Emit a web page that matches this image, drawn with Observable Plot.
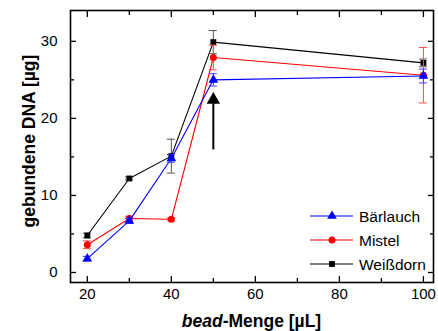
<!DOCTYPE html>
<html><head><meta charset="utf-8">
<script src="https://cdn.jsdelivr.net/npm/d3@7"></script>
<script src="https://cdn.jsdelivr.net/npm/@observablehq/plot@0.6"></script>
<style>
body{margin:0;background:#fff;}
#chart{position:relative;width:438px;height:331px;}
</style>
</head><body><div id="chart"></div>
<script>
// ---- data ----
const beadVolumes = [20, 30, 40, 50, 100];
const seriesNames = ["Bärlauch", "Mistel", "Weißdorn"];
const baerlauch    = [1.8, 6.7, 14.8, 25.0, 25.5];
const baerlauchErr = [0.3, 0.3, 0.5, 0.8, 0.9];
const mistel       = [3.6, 7.0, 6.9, 27.9, 25.6];
const mistelErr    = [0.5, 0.3, 0.2, 1.6, 3.6];
const weissdorn    = [4.8, 12.2, 15.1, 29.9, 27.2];
const weissdornErr = [0.3, 0.2, 2.2, 1.5, 0.5];
const xMajorTicks = [20, 40, 60, 80, 100];
const xMinorTicks = [30, 50, 70, 90];
const yMajorTicks = [0, 10, 20, 30];
const yMinorTicks = [5, 15, 25];
const arrowAnnotation = [{x: 50, y1: 15.9, y2: 22.4}];
const yLabel = "gebundene DNA [µg]";

const seriesValues = [baerlauch, mistel, weissdorn];
const seriesErrors = [baerlauchErr, mistelErr, weissdornErr];
const lineColors = ["#0000ff", "#ff0000", "#000000"];
const errColors = ["#3a3aff", "#ff4a4a", "#555555"];
const symbols = ["triangle", "circle", "square"];
const symbolR = [3.6, 3.5, 3.3];

const font = "'Liberation Sans', Arial, sans-serif";
const W = 438, H = 331, mL = 70, mT = 10, mR = 5, mB = 49;

const marks = [];
// mirrored inward ticks
marks.push(Plot.axisX(xMajorTicks, {anchor: "bottom", tickSize: -6, tickPadding: 12, fontSize: 15, label: null, stroke: "#000", strokeWidth: 1.3}));
marks.push(Plot.axisX(xMinorTicks, {anchor: "bottom", tickSize: -4, tickFormat: () => "", label: null, strokeWidth: 1.3}));
marks.push(Plot.axisX(xMajorTicks, {anchor: "top", tickSize: -6, tickFormat: () => "", label: null, strokeWidth: 1.3}));
marks.push(Plot.axisX(xMinorTicks, {anchor: "top", tickSize: -4, tickFormat: () => "", label: null, strokeWidth: 1.3}));
marks.push(Plot.axisY(yMajorTicks, {anchor: "left", tickSize: -6, tickPadding: 19, fontSize: 15, label: null, strokeWidth: 1.3}));
marks.push(Plot.axisY(yMinorTicks, {anchor: "left", tickSize: -4, tickFormat: () => "", label: null, strokeWidth: 1.3}));
marks.push(Plot.axisY(yMajorTicks, {anchor: "right", tickSize: -6, tickFormat: () => "", label: null, strokeWidth: 1.3}));
marks.push(Plot.axisY(yMinorTicks, {anchor: "right", tickSize: -4, tickFormat: () => "", label: null, strokeWidth: 1.3}));
marks.push(Plot.frame({stroke: "#000", strokeWidth: 1.6}));

// arrow annotation
marks.push(Plot.ruleX(arrowAnnotation, {x: "x", y1: "y1", y2: "y2", stroke: "#000", strokeWidth: 2}));
marks.push(Plot.dot(arrowAnnotation, {x: "x", y: "y2", symbol: "triangle", r: 5, fill: "#000", stroke: "none"}));

// series, drawn black first, blue last
[2, 1, 0].forEach(i => {
  const rows = beadVolumes.map((x, j) => ({x, y: seriesValues[i][j], err: seriesErrors[i][j]}));
  marks.push(Plot.line(rows, {x: "x", y: "y", stroke: lineColors[i], strokeWidth: 1.1}));
  marks.push(Plot.ruleX(rows, {x: "x", y1: d => d.y - d.err, y2: d => d.y + d.err, stroke: errColors[i], strokeWidth: 1}));
  marks.push(Plot.ruleY(rows, {x1: "x", x2: "x", y: d => d.y + d.err, insetLeft: -4, insetRight: -4, stroke: errColors[i], strokeWidth: 1}));
  marks.push(Plot.ruleY(rows, {x1: "x", x2: "x", y: d => d.y - d.err, insetLeft: -4, insetRight: -4, stroke: errColors[i], strokeWidth: 1}));
  marks.push(Plot.dot(rows, {x: "x", y: "y", symbol: symbols[i], r: symbolR[i], fill: lineColors[i], stroke: "none"}));
});

const chart = Plot.plot({
  width: W, height: H,
  marginLeft: mL, marginTop: mT, marginRight: mR, marginBottom: mB,
  style: {fontFamily: font, fontSize: "15px", color: "#000", background: "#fff", overflow: "visible"},
  x: {domain: [16, 102.4]},
  y: {domain: [-1.3, 34]},
  marks
});
document.getElementById("chart").appendChild(chart);

const svg = d3.select(chart);

// y axis label
svg.append("text")
  .attr("transform", `translate(35,${(mT + H - mB) / 2 - 5}) rotate(-90)`)
  .attr("text-anchor", "middle").attr("font-family", font)
  .attr("font-size", 17.5).attr("font-weight", "bold").attr("fill", "#000")
  .text(yLabel);

// x axis label with bold-italic "bead"
const xl = svg.append("text")
  .attr("x", (mL + W - mR) / 2).attr("y", 327)
  .attr("text-anchor", "middle").attr("font-family", font)
  .attr("font-size", 17.5).attr("font-weight", "bold").attr("fill", "#000");
xl.append("tspan").attr("font-style", "italic").text("bead");
xl.append("tspan").text("-Menge [µL]");

// legend
const lg = svg.append("g").attr("font-family", font).attr("font-size", 15.5).attr("text-anchor", "start");
seriesNames.forEach((name, i) => {
  const cy = 216 + i * 24;
  lg.append("line").attr("x1", 310).attr("x2", 353).attr("y1", cy).attr("y2", cy)
    .attr("stroke", lineColors[i]).attr("stroke-width", 1.1);
  const sym = {triangle: d3.symbolTriangle, circle: d3.symbolCircle, square: d3.symbolSquare}[symbols[i]];
  lg.append("path").attr("d", d3.symbol(sym, Math.PI * symbolR[i] * symbolR[i])())
    .attr("transform", `translate(332,${cy})`).attr("fill", lineColors[i]);
  lg.append("text").attr("x", 359).attr("y", cy + 5.5).attr("fill", "#000").attr("text-anchor", "start").text(name);
});
</script>
</body></html>
